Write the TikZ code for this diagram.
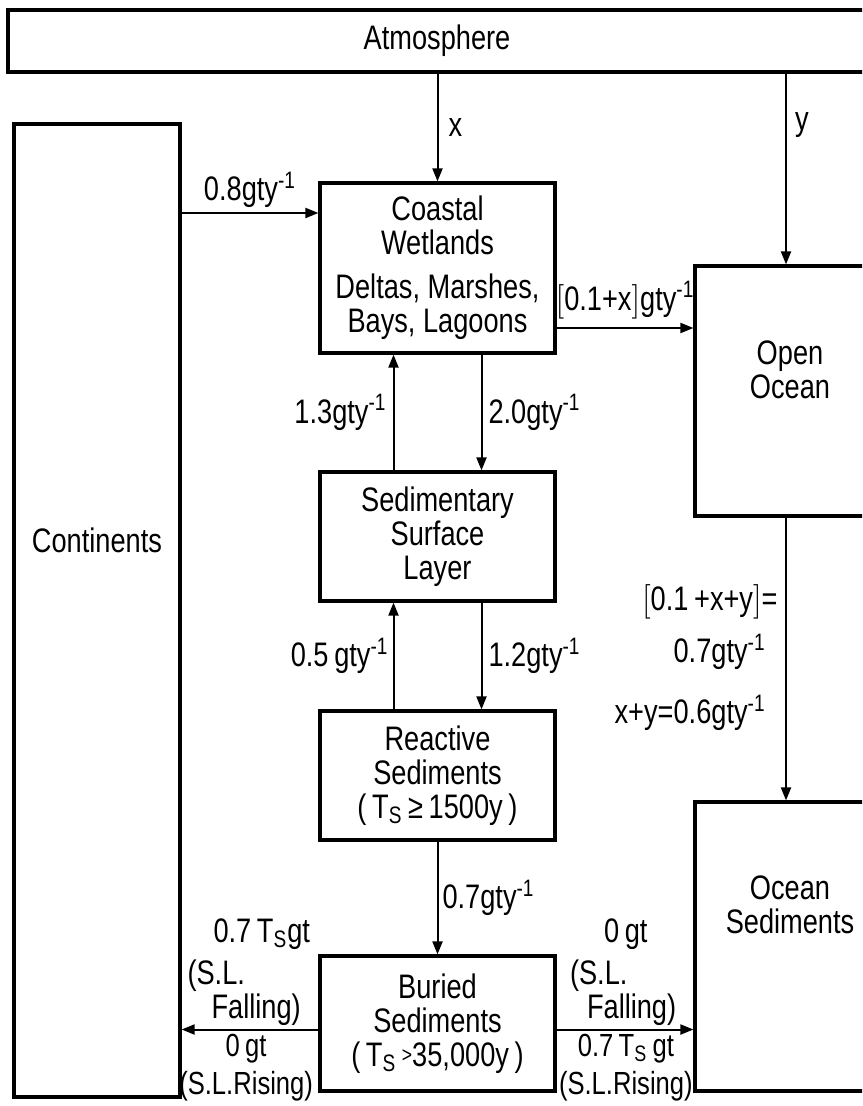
\documentclass[tikz,border=0pt]{standalone}
\usepackage{fontspec}
\setmainfont{Liberation Sans}[FakeStretch=0.8]
\usetikzlibrary{arrows.meta,positioning}

\begin{document}
\begin{tikzpicture}[
    x=0.5pt, y=-0.5pt,
    font=\fontsize{17}{17}\selectfont,
    box/.style={draw, line width=1.6pt, align=center, inner sep=2pt},
    midbox/.style={box, minimum width=117.5pt},
    arr/.style={-{Triangle[length=6.5pt,width=5pt]}, line width=1pt},
    lbl/.style={inner sep=1pt, align=center}
    ]
    \useasboundingbox (0,0) rectangle (862,1106);
    \clip (0,0) rectangle (862,1106);

    % reservoirs
    \node[box, minimum width=429pt, minimum height=31pt] (atm) at (437,41) {Atmosphere};
    \node[box, minimum width=83pt, minimum height=486.5pt] (cont) at (97,610.5) {};
    \node[lbl] (conttxt) at (97,540) {Continents};

    \node[midbox, minimum height=85pt] (cw) at (437.5,268)
        {Coastal\\Wetlands\\[5pt]Deltas, Marshes,\\Bays, Lagoons};
    \node[midbox, minimum height=64.5pt] (ssl) at (437.5,536.5)
        {Sedimentary\\Surface\\Layer};
    \node[midbox, minimum height=64.5pt] (rs) at (437.5,775.5)
        {Reactive\\Sediments\\(\,T\textsubscript{S}\,≥\,1500y\,)};
    \node[midbox, minimum height=67.5pt] (bs) at (437.5,1023.5)
        {Buried\\Sediments\\(\,T\textsubscript{S}\,\raisebox{2pt}{\fontsize{11}{11}\selectfont>}35,000y\,)};

    \node[box, minimum width=95pt, minimum height=125pt] (oo) at (790,391) {Open\\Ocean\\[4pt]};
    \node[box, minimum width=95pt, minimum height=144.5pt] (os) at (790,946.5) {};
    \node[lbl] (ostxt) at (790,905) {Ocean\\Sediments};
    \coordinate (yline) at (786,0);

    % atmosphere inputs
    \draw[arr] (atm.south -| cw.north) -- node[lbl, right, xshift=4pt] (lx) {x} (cw.north);
    \draw[arr] (atm.south -| yline) -- node[lbl, right, xshift=3pt, pos=0.27] (ly) {y} (oo.north -| yline);

    % continents -> wetlands -> open ocean
    \draw[arr] ([yshift=27.5pt]cw.west -| cont.east)
        -- node[lbl, above, inner sep=2pt] (l08) {0.8gty\textsuperscript{-1}} ([yshift=27.5pt]cw.west);
    \draw[arr] ([yshift=-30pt]cw.east)
        -- node[lbl, above, inner sep=4pt] (lcwoo) {$\big[$0.1+x$\big]$gty\textsuperscript{-1}} ([yshift=-30pt]cw.east -| oo.west);

    % exchange in the sediment column
    \draw[arr] ([xshift=-22pt]ssl.north) -- node[lbl, left, xshift=-2pt] (l13) {1.3gty\textsuperscript{-1}} ([xshift=-22pt]ssl.north |- cw.south);
    \draw[arr] ([xshift=22pt]cw.south) -- node[lbl, right, xshift=2pt] (l20) {2.0gty\textsuperscript{-1}} ([xshift=22pt]cw.south |- ssl.north);
    \draw[arr] ([xshift=-22pt]rs.north) -- node[lbl, left, xshift=-1pt] (l05) {0.5\,gty\textsuperscript{-1}} ([xshift=-22pt]rs.north |- ssl.south);
    \draw[arr] ([xshift=22pt]ssl.south) -- node[lbl, right, xshift=2pt] (l12) {1.2gty\textsuperscript{-1}} ([xshift=22pt]ssl.south |- rs.north);
    \draw[arr] (rs.south) -- node[lbl, right, xshift=1pt] (l07) {0.7gty\textsuperscript{-1}} (bs.north);

    % open ocean -> ocean sediments
    \draw[arr] (oo.south -| yline) -- (os.north -| yline);
    \node[lbl, anchor=east] (oeq1) at (780,602) {$\big[$0.1\,+x+y$\big]$=};
    \node[lbl, anchor=east] (oeq2) at (768,652) {0.7gty\textsuperscript{-1}};
    \node[lbl, anchor=east] (oeq3) at (768,713) {x+y=0.6gty\textsuperscript{-1}};

    % buried sediments, sea level
    \draw[arr] ([yshift=-3pt]bs.west) coordinate (lstart) -- (lstart -| cont.east);
    \node[lbl, above left=1pt and 3pt of lstart, align=left] (lfall)
        {\hspace*{13pt}0.7\,T\textsubscript{S}gt\\[4pt](S.L.\\\hspace*{12pt}Falling)};
    \node[lbl, below left=1pt and 1.5pt of lstart, font=\fontsize{16}{17}\selectfont] (lrise)
        {0\,gt\\[2pt](S.L.Rising)};
    \draw[arr] ([yshift=-3pt]bs.east) coordinate (rstart) -- (rstart -| os.west);
    \node[lbl, above right=1pt and 5.5pt of rstart, align=left] (rfall)
        {\hspace*{17pt}0\,gt\\[4pt](S.L.\\\hspace*{8.5pt}Falling)};
    \node[lbl, below right=1pt and 0pt of rstart, font=\fontsize{16}{17}\selectfont] (rrise)
        {0.7\,T\textsubscript{S}\,gt\\[2pt](S.L.Rising)};
\end{tikzpicture}
\end{document}
